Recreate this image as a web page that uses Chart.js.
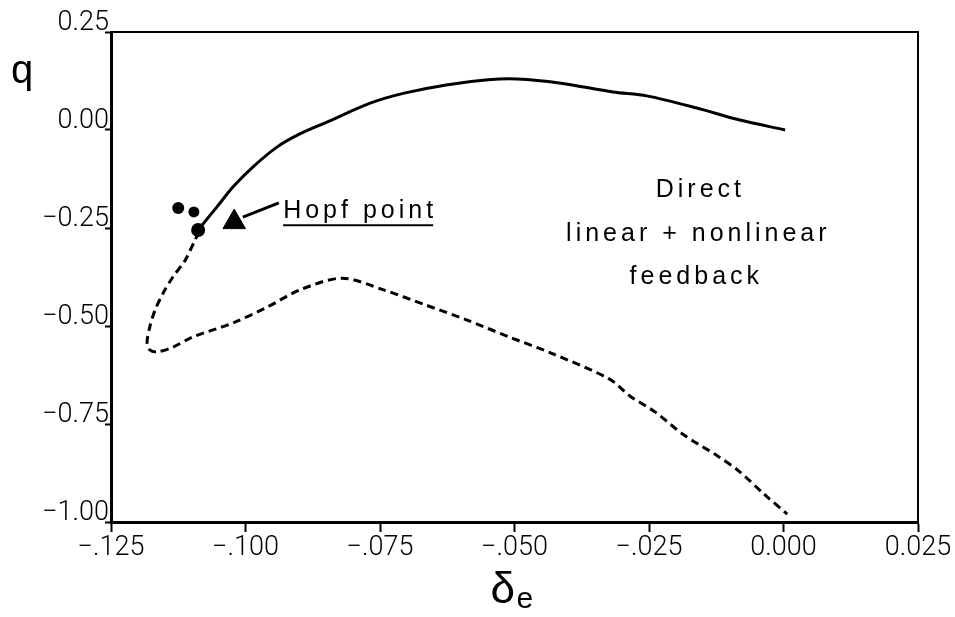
<!DOCTYPE html>
<html>
<head>
<meta charset="utf-8">
<script src="https://cdn.jsdelivr.net/npm/chart.js@4.4.1/dist/chart.umd.min.js"></script>
<style>
  html, body { margin: 0; padding: 0; background: #fff; }
  canvas { display: block; }
</style>
</head>
<body>
<canvas id="myChart" width="955" height="617"></canvas>
<script>
// q against delta_e
// stable branch (solid), from the Hopf point to delta_e = 0
const solidX = [-0.1085, -0.1053, -0.1023, -0.0986, -0.0941, -0.0899, -0.0849, -0.0767, -0.0705, -0.0627, -0.0549, -0.0495, -0.0417, -0.0317, -0.0254, -0.0161, -0.0083, 0.0003];
const solidQ = [-0.250, -0.196, -0.145, -0.094, -0.043, -0.010, 0.020, 0.069, 0.094, 0.115, 0.128, 0.130, 0.120, 0.097, 0.087, 0.056, 0.026, 0.000];

// unstable branch (dashed)
const dashX = [-0.1086, -0.1094, -0.1112, -0.1135, -0.1153, -0.1168, -0.1178, -0.1183, -0.1178, -0.1164, -0.1135, -0.1098, -0.1023, -0.0960, -0.0899, -0.0821, -0.0743, -0.0666, -0.0588, -0.0510, -0.0432, -0.0324, -0.0285, -0.0239, -0.0185, -0.0122, -0.0083, -0.0036, 0.0007];
const dashQ = [-0.260, -0.281, -0.332, -0.375, -0.416, -0.459, -0.503, -0.543, -0.561, -0.566, -0.554, -0.528, -0.492, -0.452, -0.408, -0.378, -0.408, -0.446, -0.485, -0.528, -0.569, -0.635, -0.679, -0.719, -0.778, -0.832, -0.870, -0.929, -0.980];

// the three dots near the Hopf point
const dotX = [-0.1125, -0.1096, -0.1088];
const dotQ = [-0.199, -0.209, -0.255];

// arrow that points at the Hopf point
const arrowX = [-0.0938, -0.1005];
const arrowQ = [-0.186, -0.222];
const arrowHeadX = [-0.1021];
const arrowHeadQ = [-0.235];

// ticks
const xTickValues = [-0.125, -0.100, -0.075, -0.050, -0.025, 0.000, 0.025];
const xTickLabels = ['\u2212.125', '\u2212.100', '\u2212.075', '\u2212.050', '\u2212.025', '0.000', '0.025'];
const yTickValues = [-1.00, -0.75, -0.50, -0.25, 0.00, 0.25];
const yTickLabels = ['\u22121.00', '\u22120.75', '\u22120.50', '\u22120.25', '0.00', '0.25'];

function pts(xs, ys) {
  return xs.map((x, i) => ({ x: x, y: ys[i] }));
}

const tickFont = { family: 'Roboto, "Liberation Sans", sans-serif', size: 27, weight: 300 };

// frame and free texts
const extrasPlugin = {
  id: 'extras',
  beforeDraw(chart) {
    const c = chart.ctx;
    c.save();
    c.fillStyle = '#fff';
    c.fillRect(0, 0, chart.width, chart.height);
    c.restore();
  },
  afterDraw(chart) {
    const c = chart.ctx;
    const a = chart.chartArea;
    const xs = chart.scales.x;
    const ys = chart.scales.y;
    c.save();
    // top and right sides of the box
    c.strokeStyle = '#000';
    c.lineWidth = 2;
    c.beginPath();
    c.moveTo(a.left, a.top);
    c.lineTo(a.right, a.top);
    c.lineTo(a.right, a.bottom);
    c.stroke();

    c.fillStyle = '#000';
    c.textBaseline = 'alphabetic';
    c.textAlign = 'left';
    c.font = '40px "Liberation Sans", sans-serif';
    c.fillText('q', 11, 83);

    // axis title delta_e
    const mid = (a.left + a.right) / 2;
    c.font = '44px "Liberation Sans", sans-serif';
    c.fillText('\u03b4', mid - 24, 603);
    c.font = '30px "Liberation Sans", sans-serif';
    c.fillText('e', mid + 2, 608);

    // Hopf point label, underlined
    c.letterSpacing = '4px';
    c.font = '25px "Liberation Sans", sans-serif';
    const hx = xs.getPixelForValue(-0.0930);
    const hy = ys.getPixelForValue(-0.225);
    c.fillText('Hopf point', hx, hy);
    const hw = c.measureText('Hopf point').width - 4;
    c.lineWidth = 2;
    c.beginPath();
    c.moveTo(hx, hy + 7);
    c.lineTo(hx + hw, hy + 7);
    c.stroke();

    // note on the right
    c.textAlign = 'center';
    const tx = xs.getPixelForValue(-0.0162);
    c.fillText('Direct', tx + 4, ys.getPixelForValue(-0.172));
    c.fillText('linear + nonlinear', tx + 2, ys.getPixelForValue(-0.282));
    c.fillText('feedback', tx, ys.getPixelForValue(-0.392));
    c.restore();
  }
};

const ctx = document.getElementById('myChart').getContext('2d');
const myChart = new Chart(ctx, {
  type: 'scatter',
  data: {
    datasets: [
      {
        label: 'stable',
        data: pts(solidX, solidQ),
        showLine: true,
        borderColor: '#000',
        borderWidth: 3,
        pointRadius: 0,
        tension: 0.3
      },
      {
        label: 'unstable',
        data: pts(dashX, dashQ),
        showLine: true,
        borderColor: '#000',
        borderWidth: 3,
        borderDash: [8, 5],
        pointRadius: 0,
        tension: 0.3
      },
      {
        label: 'dots',
        data: pts(dotX, dotQ),
        backgroundColor: '#000',
        borderColor: '#000',
        pointRadius: [6, 5.5, 7],
        borderWidth: 0
      },
      {
        label: 'arrow',
        data: pts(arrowX, arrowQ),
        showLine: true,
        borderColor: '#000',
        borderWidth: 3,
        pointRadius: 0
      },
      {
        label: 'arrow head',
        data: pts(arrowHeadX, arrowHeadQ),
        pointStyle: 'triangle',
        rotation: 240,
        pointRadius: 13,
        backgroundColor: '#000',
        borderColor: '#000',
        borderWidth: 1
      }
    ]
  },
  options: {
    responsive: false,
    animation: false,
    devicePixelRatio: 1,
    layout: { padding: { top: 32, right: 37, left: 0, bottom: 0 } },
    plugins: {
      legend: { display: false },
      tooltip: { enabled: false }
    },
    scales: {
      x: {
        type: 'linear',
        min: -0.125,
        max: 0.025,
        afterBuildTicks: (s) => { s.ticks = xTickValues.map(v => ({ value: v })); },
        afterFit: (s) => { s.height = 95; },
        ticks: {
          color: '#000',
          font: tickFont,
          padding: 0,
          maxRotation: 0,
          autoSkip: false,
          callback: (v, i) => xTickLabels[i]
        },
        grid: { drawOnChartArea: false, tickLength: 10, tickColor: '#000', tickWidth: 2 },
        border: { color: '#000', width: 3 }
      },
      y: {
        type: 'linear',
        min: -1.0,
        max: 0.25,
        afterBuildTicks: (s) => { s.ticks = yTickValues.map(v => ({ value: v })); },
        afterFit: (s) => { s.width = 111; },
        ticks: {
          color: '#000',
          font: tickFont,
          padding: -4,
          labelOffset: -9,
          autoSkip: false,
          callback: (v, i) => yTickLabels[i]
        },
        grid: { drawOnChartArea: false, tickLength: 6, tickColor: '#000', tickWidth: 2 },
        border: { color: '#000', width: 3 }
      }
    }
  },
  plugins: [extrasPlugin]
});
</script>
</body>
</html>
